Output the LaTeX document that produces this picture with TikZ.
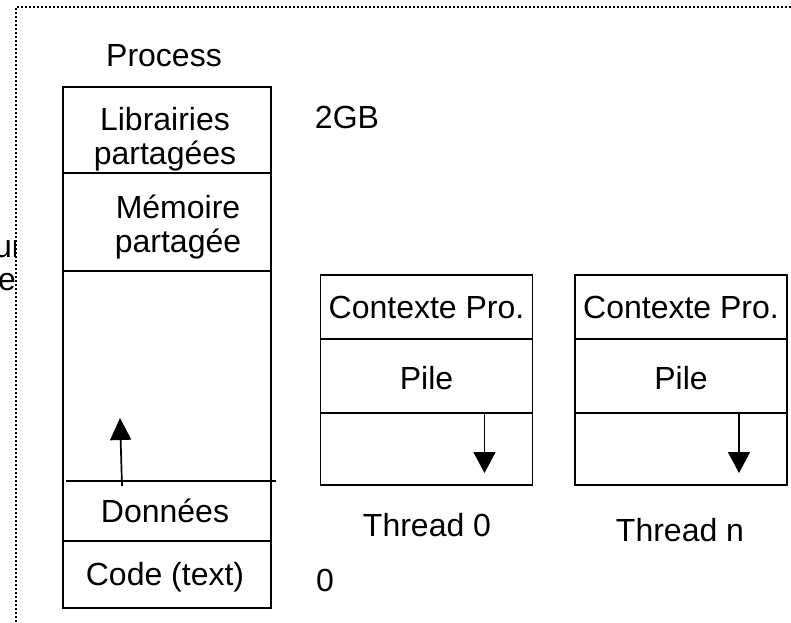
\documentclass[tikz,border=0pt]{standalone}
\usepackage{fontspec}
\setmainfont{Liberation Sans}
\usetikzlibrary{arrows.meta}
\begin{document}
\begin{tikzpicture}[x=1pt,y=-1pt,
    box/.style={draw,line width=1.9pt,inner sep=0pt},
    sep/.style={line width=1.7pt},
    lbl/.style={font=\fontsize{32}{34}\selectfont,align=center,inner sep=0pt},
    growarrow/.style={line width=1.7pt,-{Triangle[length=22pt,width=21pt]}}]
    \useasboundingbox (0,0) rectangle (791,622);
    %% Frame
    \draw[line width=1.6pt,dash pattern=on 2pt off 2pt] (16,622) -- (16,7) -- (791,7);
    %% Clipped text on the left
    \begin{scope}
        \clip (0,0) rectangle (15,622);
        \node[lbl,anchor=base west] (cutA) at (-6,257) {ur};
        \node[lbl,anchor=base west] (cutB) at (-2,290) {ea};
    \end{scope}
    %% Process
    \node[lbl] (proctitle) at (164,56) {Process};
    \node[box,minimum width=208pt,minimum height=521pt] (proc) at (167,347.5) {};
    \draw[sep] (proc.west |- 0,173) -- (proc.east |- 0,173);
    \draw[sep] (proc.west |- 0,271) -- (proc.east |- 0,271);
    \draw[sep] (66,481) -- (276,481);
    \draw[sep] (proc.west |- 0,541) -- (proc.east |- 0,541);
    \node[lbl] (libs) at (165,139) {Librairies\\partagées};
    \node[lbl] (shm) at (178,227) {Mémoire\\partagée};
    \node[lbl] (data) at (165,511) {Données};
    \node[lbl] (code) at (165,577) {Code (text)};
    \node[lbl] (top) at (347,117) {2GB};
    \node[lbl] (bottom) at (325,580) {0};
    %% Heap
    \coordinate (heapbase) at (122,486);
    \coordinate (heaptop) at (120,418);
    \draw[growarrow] (heapbase) -- (heaptop);
    %% Threads
    \foreach \name/\x in {thr0/426.5, thrn/681}{
        \node[box,minimum width=212pt,minimum height=210pt] (\name) at (\x,380) {};
        \draw[sep] (\name.west |- 0,339) -- (\name.east |- 0,339);
        \draw[sep] (\name.west |- 0,413) -- (\name.east |- 0,413);
        \node[lbl] (\name ctx) at (\x,307) {Contexte Pro.};
        \node[lbl] (\name pile) at (\x,378) {Pile};
        \coordinate (\name sp) at (\x+58,413);
        \coordinate (\name tip) at (\x+58,473);
        \draw[growarrow,-{Triangle[length=21pt,width=22pt]}] (\name sp) -- (\name tip);
    }
    \node[lbl] (thr0lab) at (427,525) {Thread 0};
    \node[lbl] (thrnlab) at (680,530) {Thread n};
\end{tikzpicture}
\end{document}
